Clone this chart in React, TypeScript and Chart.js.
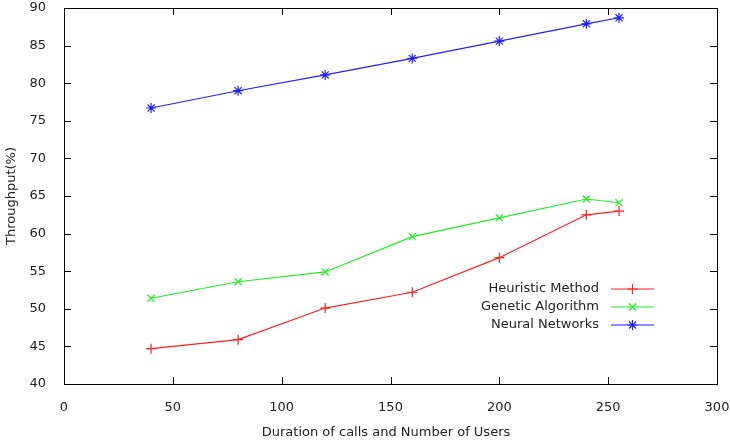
import React, { useEffect, useRef } from "react";
import { Chart, registerables } from "chart.js";

Chart.register(...registerables);

const xValues = [40, 80, 120, 160, 200, 240, 255];
const heuristic = [44.7, 45.9, 50.1, 52.2, 56.8, 62.5, 63.0];
const genetic = [51.4, 53.6, 54.9, 59.6, 62.1, 64.6, 64.1];
const neural = [76.7, 79.0, 81.1, 83.3, 85.6, 87.9, 88.7];
const seriesNames = ["Heuristic Method", "Genetic Algorithm", "Neural Networks"];
const seriesColors = ["#ff2020", "#20ee20", "#2020ff"];
const seriesMarkers = ["cross", "crossRot", "star"];
const xTitle = "Duration of calls and Number of Users";
const yTitle = "Throughput(%)";

const FONT = "DejaVu Sans";
const TEXT = "#222";
const FS = 13;

function drawMarker(ctx: CanvasRenderingContext2D, style: string, x: number, y: number, r: number) {
  ctx.beginPath();
  if (style === "cross" || style === "star") {
    ctx.moveTo(x - r, y); ctx.lineTo(x + r, y);
    ctx.moveTo(x, y - r); ctx.lineTo(x, y + r);
  }
  if (style === "crossRot" || style === "star") {
    const d = r * 0.7071;
    ctx.moveTo(x - d, y - d); ctx.lineTo(x + d, y + d);
    ctx.moveTo(x - d, y + d); ctx.lineTo(x + d, y - d);
  }
  ctx.stroke();
}

const framePlugin = {
  id: "frame",
  afterDraw(chart: any) {
    const { ctx, chartArea: a, scales } = chart;
    ctx.save();
    ctx.strokeStyle = "#000";
    ctx.lineWidth = 1;
    ctx.strokeRect(Math.round(a.left) + 0.5, Math.round(a.top) + 0.5, Math.round(a.right - a.left), Math.round(a.bottom - a.top));
    const tl = 7;
    ctx.beginPath();
    scales.x.ticks.forEach((t: any) => {
      const px = Math.round(scales.x.getPixelForValue(t.value)) + 0.5;
      ctx.moveTo(px, a.bottom); ctx.lineTo(px, a.bottom - tl);
      ctx.moveTo(px, a.top); ctx.lineTo(px, a.top + tl);
    });
    scales.y.ticks.forEach((t: any) => {
      const py = Math.round(scales.y.getPixelForValue(t.value)) + 0.5;
      ctx.moveTo(a.left, py); ctx.lineTo(a.left + tl, py);
      ctx.moveTo(a.right, py); ctx.lineTo(a.right - tl, py);
    });
    ctx.stroke();

    // titles
    ctx.fillStyle = TEXT;
    ctx.font = `${FS}px "${FONT}"`;
    ctx.textAlign = "center";
    ctx.textBaseline = "middle";
    ctx.fillText(xTitle, 386, 433);
    ctx.save();
    ctx.translate(12, (a.top + a.bottom) / 2);
    ctx.rotate(-Math.PI / 2);
    ctx.fillText(yTitle, 0, 0);
    ctx.restore();

    // legend
    const rows = [289, 307, 325];
    seriesNames.forEach((name, i) => {
      const y = rows[i];
      ctx.fillStyle = TEXT;
      ctx.textAlign = "right";
      ctx.fillText(name, 599, y);
      ctx.strokeStyle = seriesColors[i];
      ctx.lineWidth = 1.2;
      ctx.beginPath();
      ctx.moveTo(611, y); ctx.lineTo(654, y);
      ctx.stroke();
      drawMarker(ctx, seriesMarkers[i], 632.5, y, 5);
    });
    ctx.restore();
  },
};

export default function App() {
  const ref = useRef<HTMLCanvasElement>(null);
  useEffect(() => {
    const mk = (i: number, vals: number[]) => ({
      label: seriesNames[i],
      data: xValues.map((x, k) => ({ x, y: vals[k] })),
      borderColor: seriesColors[i],
      backgroundColor: seriesColors[i],
      borderWidth: 1.2,
      pointStyle: seriesMarkers[i],
      pointRadius: 5,
      pointBorderWidth: 1.2,
      pointBorderColor: seriesColors[i],
      tension: 0,
    });
    const chart = new Chart(ref.current!, {
      type: "line",
      data: { datasets: [mk(0, heuristic), mk(1, genetic), mk(2, neural)] },
      options: {
        animation: false,
        responsive: false,
        layout: { padding: { top: 8, right: 13, left: 0, bottom: 0 } },
        plugins: { legend: { display: false }, tooltip: { enabled: false } },
        scales: {
          x: {
            type: "linear",
            min: 0,
            max: 300,
            ticks: { stepSize: 50, color: TEXT, font: { family: FONT, size: FS }, padding: 8, maxRotation: 0 },
            grid: { display: false },
            border: { display: false },
            afterFit: (s: any) => { s.height = 59; s.paddingLeft = 0; s.paddingRight = 0; },
          },
          y: {
            min: 40,
            max: 90,
            ticks: { stepSize: 5, color: TEXT, font: { family: FONT, size: FS }, padding: 10 },
            grid: { display: false },
            border: { display: false },
            afterFit: (s: any) => { s.width = 64; s.paddingTop = 0; s.paddingBottom = 0; },
          },
        },
      },
      plugins: [framePlugin],
    } as any);
    return () => chart.destroy();
  }, []);
  return (
    <div style={{ position: "absolute", left: 0, top: 0, width: 730, height: 443, background: "#fff" }}>
      <canvas ref={ref} width={730} height={443} />
    </div>
  );
}
